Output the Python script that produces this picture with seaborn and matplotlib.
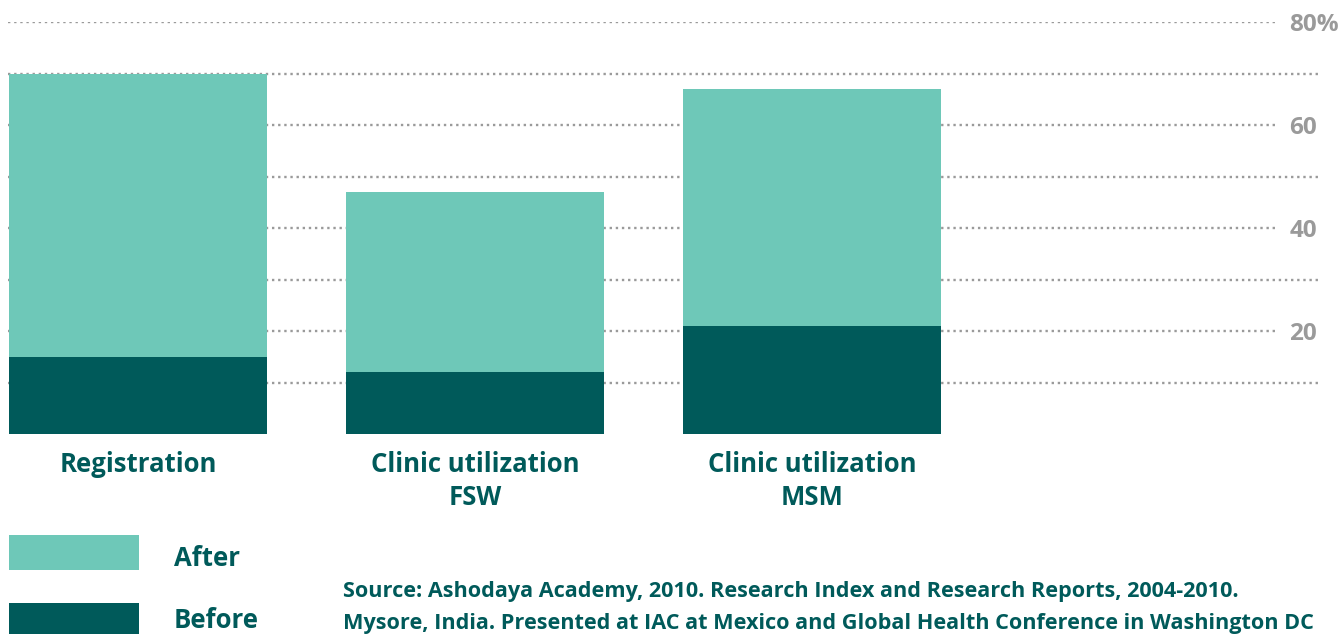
import matplotlib
matplotlib.use("Agg")
import matplotlib.pyplot as plt
from matplotlib.patches import Rectangle
import pandas as pd
import seaborn as sns

categories = ["Registration", "Clinic utilization\nFSW", "Clinic utilization\nMSM"]
after = [70, 47, 67]
before = [15, 12, 21]
ytick_values = [20, 40, 60, 80]
ytick_labels = ["20", "40", "60", "80%"]
legend_labels = ["After", "Before"]
source_lines = [
    "Source: Ashodaya Academy, 2010. Research Index and Research Reports, 2004-2010.",
    "Mysore, India. Presented at IAC at Mexico and Global Health Conference in Washington DC",
]

AFTER_C = "#6ec8b8"
BEFORE_C = "#005a5a"
TEXT_C = "#005a5a"
GRID_C = "#9a9a9a"

sns.set_style("white")
plt.rcParams["font.family"] = ["Open Sans", "DejaVu Sans"]

df = pd.DataFrame({"category": categories, "after": after, "before": before})

fig = plt.figure(figsize=(13.41, 6.34), dpi=100)
ax = fig.add_axes([8 / 1341, 1 - 434 / 634, 1312 / 1341, 412 / 634])

sns.barplot(data=df, x="category", y="after", color=AFTER_C, width=0.766,
            saturation=1, linewidth=0, ax=ax, zorder=3)
sns.barplot(data=df, x="category", y="before", color=BEFORE_C, width=0.766,
            saturation=1, linewidth=0, ax=ax, zorder=4)

ax.set_xlim(-0.386, 3.507)
ax.set_ylim(0, 80)
sns.despine(ax=ax, left=True, bottom=True, right=True, top=True)

# dotted gridlines: labelled ones stop short of the tick labels
for y in range(10, 81, 10):
    xmax = 0.966 if y in ytick_values else 1.0
    ax.axhline(y, xmin=0, xmax=xmax, color=GRID_C, lw=1.7,
               linestyle=(0, (1, 1.6)), zorder=1)

ax.yaxis.tick_right()
ax.set_yticks(ytick_values)
ax.set_yticklabels(ytick_labels, fontweight="bold", color=GRID_C, fontsize=17.5,
                   ha="left")
ax.tick_params(axis="y", length=0, pad=-22)

ax.set_xlabel("")
ax.set_ylabel("")
ax.set_xticks(range(len(categories)))
ax.set_xticklabels(categories, fontweight="bold", color=TEXT_C, fontsize=18.5,
                   linespacing=1.3)
ax.tick_params(axis="x", length=0, pad=12)

# legend swatches
for (lab, col, ytop, yc) in zip(legend_labels, [AFTER_C, BEFORE_C], [535, 603], [558, 620]):
    fig.add_artist(Rectangle((9 / 1341, 1 - (ytop + 35) / 634), 130 / 1341, 35 / 634,
                             transform=fig.transFigure, color=col, lw=0))
    fig.text(174 / 1341, 1 - yc / 634, lab, color=TEXT_C, fontsize=18.5,
             fontweight="bold", va="center", ha="left")

for line, yc in zip(source_lines, [592, 624]):
    fig.text(343 / 1341, 1 - yc / 634, line, color=TEXT_C, fontsize=15.6,
             fontweight="bold", va="center", ha="left")

fig.savefig("out.png", dpi=100)
